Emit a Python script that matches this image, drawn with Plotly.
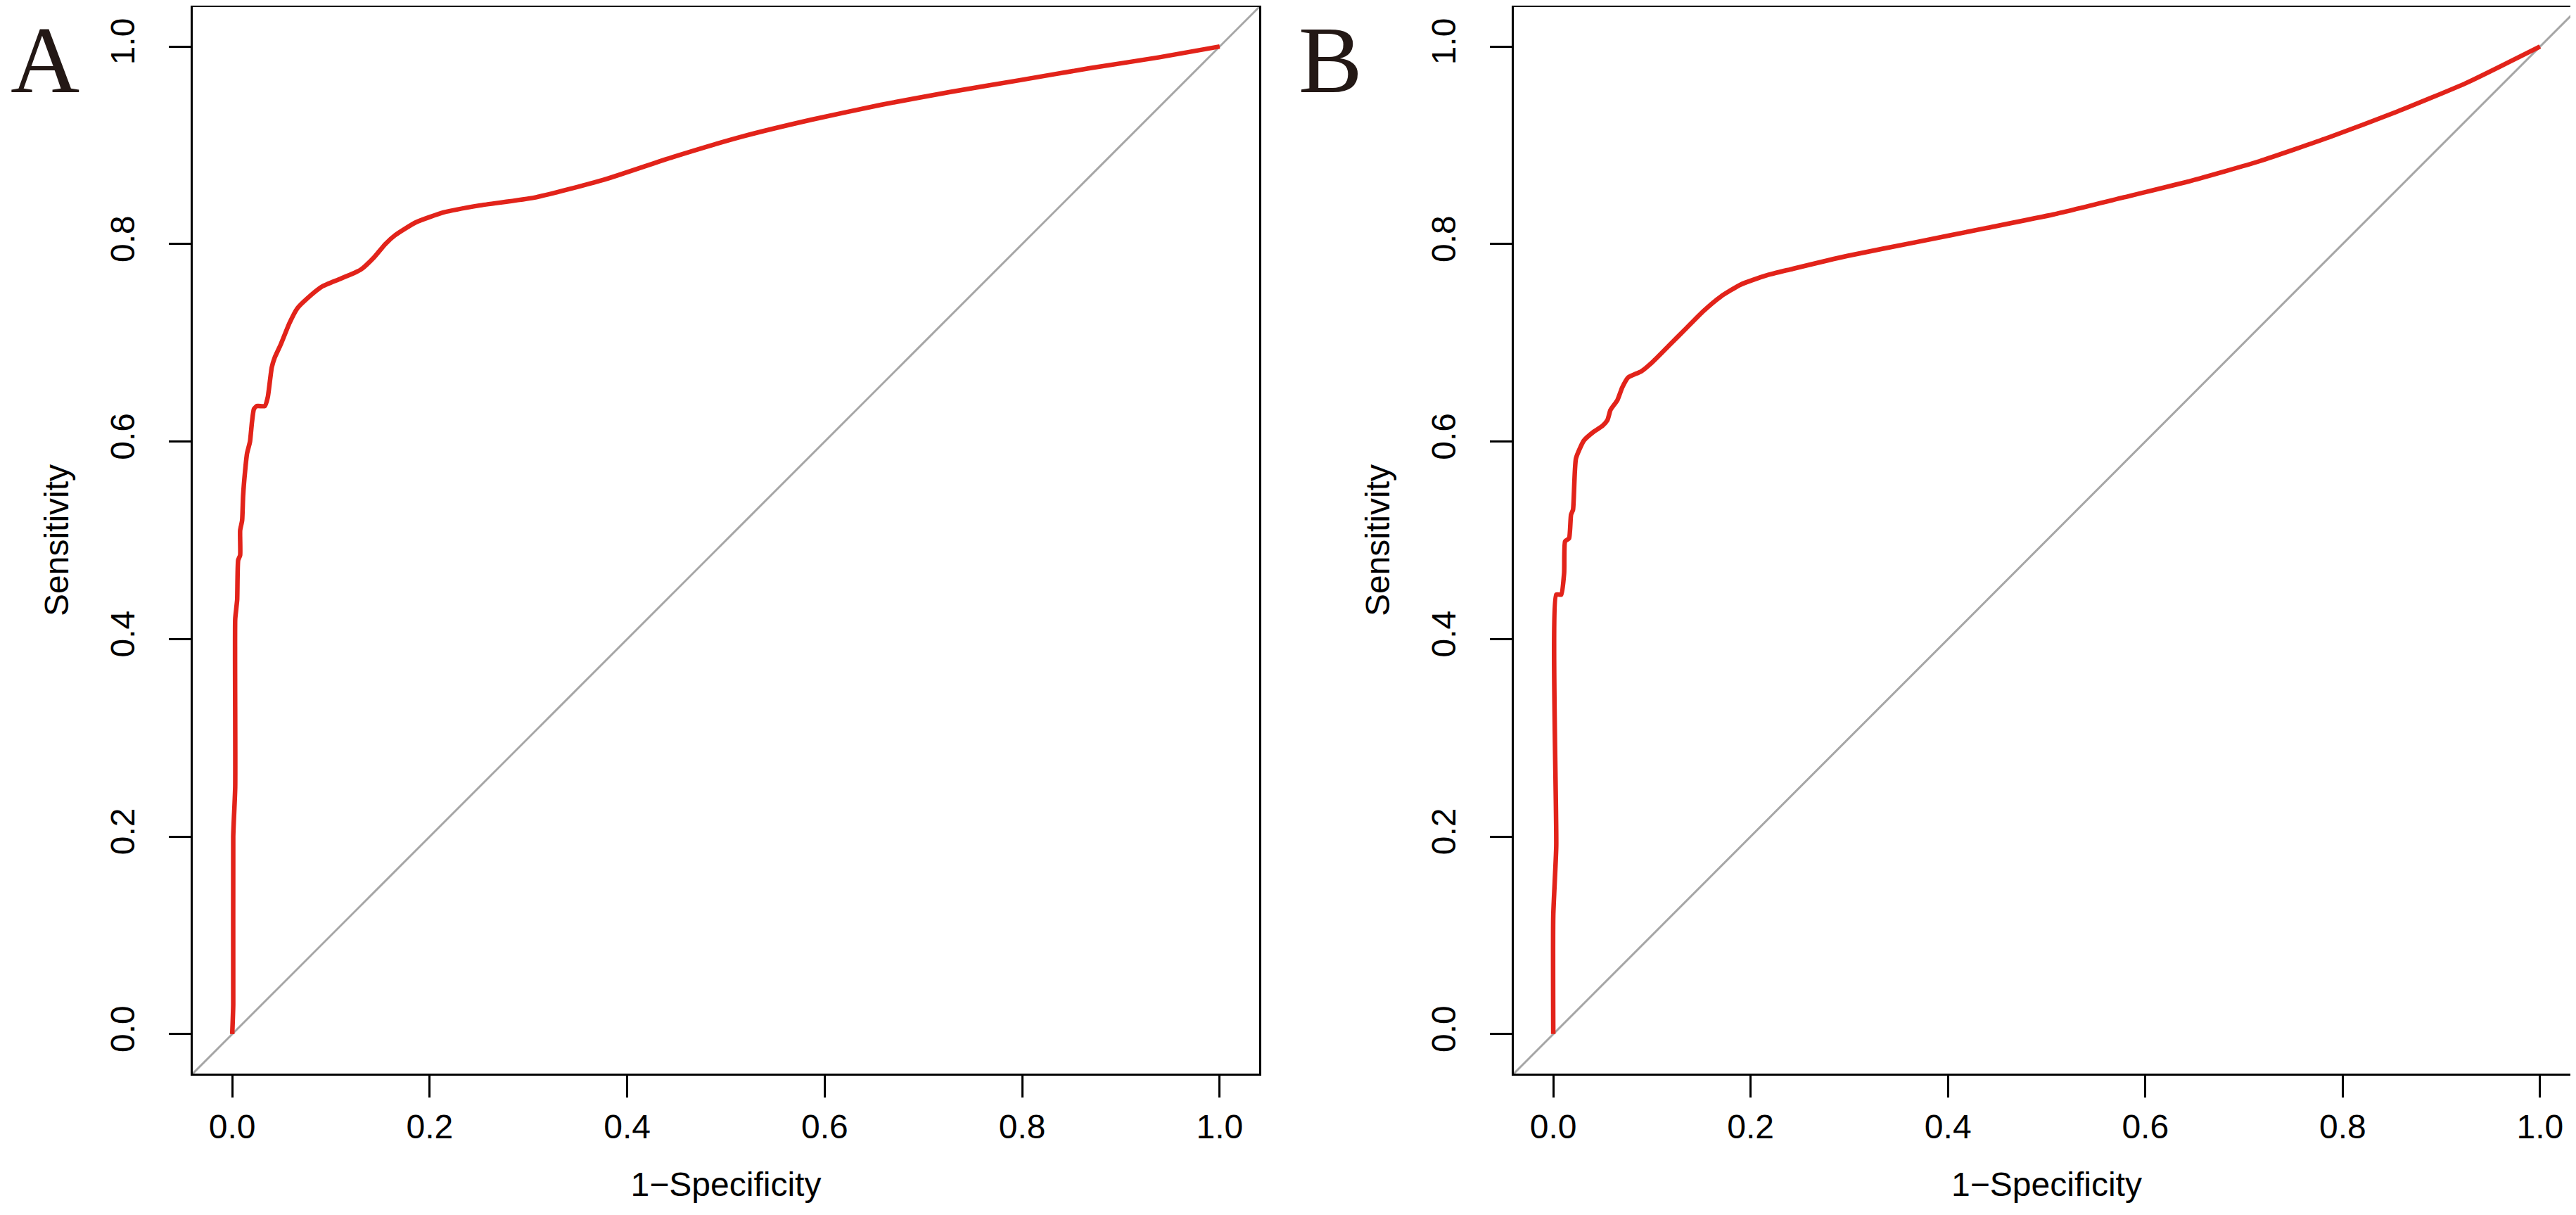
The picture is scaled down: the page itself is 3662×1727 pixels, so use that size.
import plotly.graph_objects as go

# ROC curve A (1-specificity, sensitivity)
fpr_a = [0.0, 0.001, 0.001, 0.003, 0.003, 0.004, 0.005, 0.006, 0.008, 0.008, 0.010,
         0.011, 0.013, 0.015, 0.018, 0.020, 0.022, 0.025, 0.033, 0.036, 0.040, 0.043,
         0.049, 0.058, 0.066, 0.076, 0.091, 0.110, 0.130, 0.144, 0.155, 0.165, 0.186,
         0.214, 0.250, 0.306, 0.376, 0.446, 0.517, 0.587, 0.657, 0.727, 0.798, 0.868,
         0.938, 1.0]
tpr_a = [0.0, 0.03, 0.20, 0.25, 0.42, 0.43, 0.44, 0.48, 0.485, 0.51, 0.52,
         0.545, 0.57, 0.588, 0.60, 0.62, 0.633, 0.636, 0.636, 0.645, 0.675, 0.685,
         0.698, 0.72, 0.735, 0.745, 0.757, 0.765, 0.774, 0.787, 0.800, 0.809, 0.822,
         0.832, 0.839, 0.847, 0.865, 0.888, 0.909, 0.926, 0.941, 0.954, 0.966, 0.978,
         0.989, 1.0]

# ROC curve B
fpr_b = [0.0, 0.0, 0.003, 0.003, 0.008, 0.011, 0.012, 0.016, 0.018, 0.020, 0.023,
         0.031, 0.041, 0.050, 0.055, 0.058, 0.065, 0.070, 0.076, 0.089, 0.100, 0.117,
         0.135, 0.152, 0.170, 0.190, 0.215, 0.243, 0.298, 0.368, 0.438, 0.507, 0.577,
         0.646, 0.716, 0.786, 0.855, 0.925, 1.0]
tpr_b = [0.0, 0.12, 0.19, 0.445, 0.445, 0.467, 0.499, 0.502, 0.526, 0.531, 0.583,
         0.601, 0.610, 0.616, 0.622, 0.632, 0.642, 0.655, 0.665, 0.671, 0.680, 0.697,
         0.715, 0.732, 0.747, 0.759, 0.768, 0.775, 0.788, 0.802, 0.816, 0.830, 0.847,
         0.864, 0.884, 0.908, 0.934, 0.963, 1.0]

tick_vals = [0.0, 0.2, 0.4, 0.6, 0.8, 1.0]
tick_text = ["0.0", "0.2", "0.4", "0.6", "0.8", "1.0"]
panel_labels = ["A", "B"]

red = "#E2231A"
font_main = "Liberation Sans, Arial, sans-serif"
title_font = dict(family=font_main, size=48, color="black")

fig = go.Figure()
fig.add_trace(go.Scatter(x=fpr_a, y=tpr_a, mode="lines", xaxis="x", yaxis="y",
                         line=dict(color=red, width=6.5, shape="spline", smoothing=0.5),
                         showlegend=False))
fig.add_trace(go.Scatter(x=fpr_b, y=tpr_b, mode="lines", xaxis="x2", yaxis="y2",
                         line=dict(color=red, width=6.5, shape="spline", smoothing=0.5),
                         showlegend=False))

ax_common = dict(range=[-0.04, 1.04], tickvals=tick_vals, ticktext=tick_text,
                 ticks="outside", ticklen=31, tickwidth=3, tickcolor="black",
                 showline=True, linewidth=3, linecolor="black", mirror=True,
                 showgrid=False, zeroline=False,
                 tickfont=dict(family=font_main, size=48, color="black"))

ydom = [1 - 1518 / 1727, 1 - 2 / 1727]
fig.update_layout(
    width=3662, height=1727,
    margin=dict(l=0, r=0, t=0, b=0),
    paper_bgcolor="white", plot_bgcolor="white",
    xaxis=dict(ax_common, domain=[266 / 3662, 1782 / 3662], anchor="y",
               title=dict(text="1\u2212Specificity", standoff=40, font=title_font)),
    yaxis=dict(ax_common, domain=ydom, anchor="x", tickangle=-90, ticklabelstandoff=30,
               title=dict(text="Sensitivity", standoff=35, font=title_font)),
    xaxis2=dict(ax_common, domain=[2144 / 3662, 3659 / 3662], anchor="y2",
                title=dict(text="1\u2212Specificity", standoff=40, font=title_font)),
    yaxis2=dict(ax_common, domain=ydom, anchor="x2", tickangle=-90, ticklabelstandoff=30,
                title=dict(text="Sensitivity", standoff=35, font=title_font)),
)

# reference diagonal across each box
for xr, yr in [("x domain", "y domain"), ("x2 domain", "y2 domain")]:
    fig.add_shape(type="line", xref=xr, yref=yr, x0=0, y0=0, x1=1, y1=1,
                  line=dict(color="#A6A6A6", width=3), layer="below")

# panel letters, kept fully inside the page
for lab, xpos in zip(panel_labels, [56 / 3662, 1883 / 3662]):
    fig.add_annotation(text=lab, xref="paper", yref="paper", x=xpos, y=1.0,
                       xanchor="center", yanchor="top", showarrow=False,
                       font=dict(family="Liberation Serif, Times New Roman, serif",
                                 size=136, color="#231815"))

fig.write_html("out.html")
